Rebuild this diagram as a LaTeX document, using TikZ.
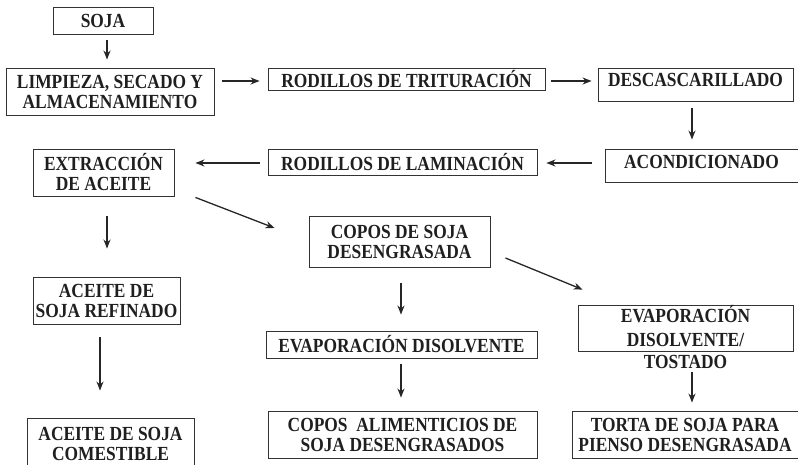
\documentclass[tikz,border=0pt]{standalone}
\usepackage{fontspec}
\setmainfont{Liberation Serif}[FakeStretch=0.87]
\usetikzlibrary{arrows.meta,calc}

\begin{document}
\begin{tikzpicture}[x=1pt,y=-1pt,
    box/.style={draw=black!80, line width=0.9pt, inner sep=0pt, align=center,
      font=\bfseries\fontsize{20}{20}\selectfont, text=black!88},
    flow/.style={-{Stealth[length=9pt,width=7pt]}, line width=1.3pt, black!85}]
    % Margins
    \useasboundingbox (0,0) rectangle (798,465);
    % Boxes
    \node[box, minimum width=100, minimum height=27] (soja) at (103,20.5) {SOJA};
    \node[box, minimum width=208, minimum height=47] (limp) at (110,91.5) {LIMPIEZA, SECADO Y\\ALMACENAMIENTO};
    \node[box, minimum width=277, minimum height=22] (trit) at (406.5,79) {RODILLOS DE TRITURACIÓN};
    \node[box, minimum width=195, minimum height=33, text depth=9pt] (desc) at (695.5,84.5) {DESCASCARILLADO};
    \node[box, minimum width=193, minimum height=33, text depth=7pt] (acond) at (701.5,165.5) {ACONDICIONADO};
    \node[box, minimum width=269, minimum height=26] (lam) at (402.5,162) {RODILLOS DE LAMINACIÓN};
    \node[box, minimum width=141, minimum height=47] (extr) at (103.5,172.5) {EXTRACCIÓN\\DE ACEITE};
    \node[box, minimum width=181, minimum height=51] (copos) at (399.5,241.5) {COPOS DE SOJA\\DESENGRASADA};
    \node[box, minimum width=147, minimum height=47] (refin) at (106.5,300.5) {ACEITE DE\\SOJA REFINADO};
    \node[box, minimum width=167, minimum height=52] (comest) at (110.5,444) {ACEITE DE SOJA\\COMESTIBLE};
    \node[box, minimum width=271, minimum height=27] (evap) at (401.5,344.5) {EVAPORACIÓN DISOLVENTE};
    \node[box, minimum width=269, minimum height=47] (alim) at (402.5,434.5) {COPOS~ ALIMENTICIOS DE\\SOJA DESENGRASADOS};
    \node[box, minimum width=215, minimum height=46] (tost) at (685.5,328) {};
    \node[box, draw=none] (tosttxt) at (685.5,337) {EVAPORACIÓN\\[4pt]DISOLVENTE/\\[2pt]TOSTADO};
    \node[box, minimum width=226, minimum height=47] (torta) at (685,434.5) {TORTA DE SOJA PARA\\PIENSO DESENGRASADA};
    % Arrows
    \draw[flow, shorten <=6pt, shorten >=8pt] ([xshift=4pt]soja.south) -- ([xshift=4pt]soja.south |- limp.north);
    \draw[flow, shorten <=8pt, shorten >=8pt] ([yshift=-2pt]limp.east |- trit.west) -- ([yshift=-2pt]trit.west);
    \draw[flow, shorten <=6pt, shorten >=6pt] ([yshift=-2pt]trit.east) -- ([yshift=-2pt]trit.east -| desc.west);
    \draw[flow, shorten <=7pt, shorten >=9pt] ([xshift=-3.5pt]desc.south) -- ([xshift=-3.5pt]desc.south |- acond.north);
    \draw[flow, shorten <=13pt, shorten >=9pt] ([yshift=-1pt]acond.west |- lam.east) -- ([yshift=-1pt]lam.east);
    \draw[flow, shorten <=8pt, shorten >=21pt] ([yshift=-1pt]lam.west) -- ([yshift=-1pt]lam.west -| extr.east);
    \draw[flow] ($(extr.south east)+(21,1)$) -- ($(copos.west)+(-34,-13.5)$);
    \draw[flow, shorten <=20pt, shorten >=28pt] ([xshift=3.5pt]extr.south) -- ([xshift=3.5pt]extr.south |- refin.north);
    \draw[flow, shorten <=13pt, shorten >=27pt] ([xshift=-6.5pt]refin.south) -- ([xshift=-6.5pt]refin.south |- comest.north);
    \draw[flow, shorten <=16pt, shorten >=16pt] ([xshift=1.5pt]copos.south) -- ([xshift=1.5pt]copos.south |- evap.north);
    \draw[flow, shorten <=6pt, shorten >=13pt] ([xshift=-0.5pt]evap.south) -- ([xshift=-0.5pt]evap.south |- alim.north);
    \draw[flow] ($(copos.east)+(15,16.5)$) -- ($(tost.north west)+(5,-15)$);
    \draw[flow, shorten <=21pt, shorten >=8pt] ([xshift=6.5pt]tost.south) -- ([xshift=6.5pt]tost.south |- torta.north);
\end{tikzpicture}
\end{document}
